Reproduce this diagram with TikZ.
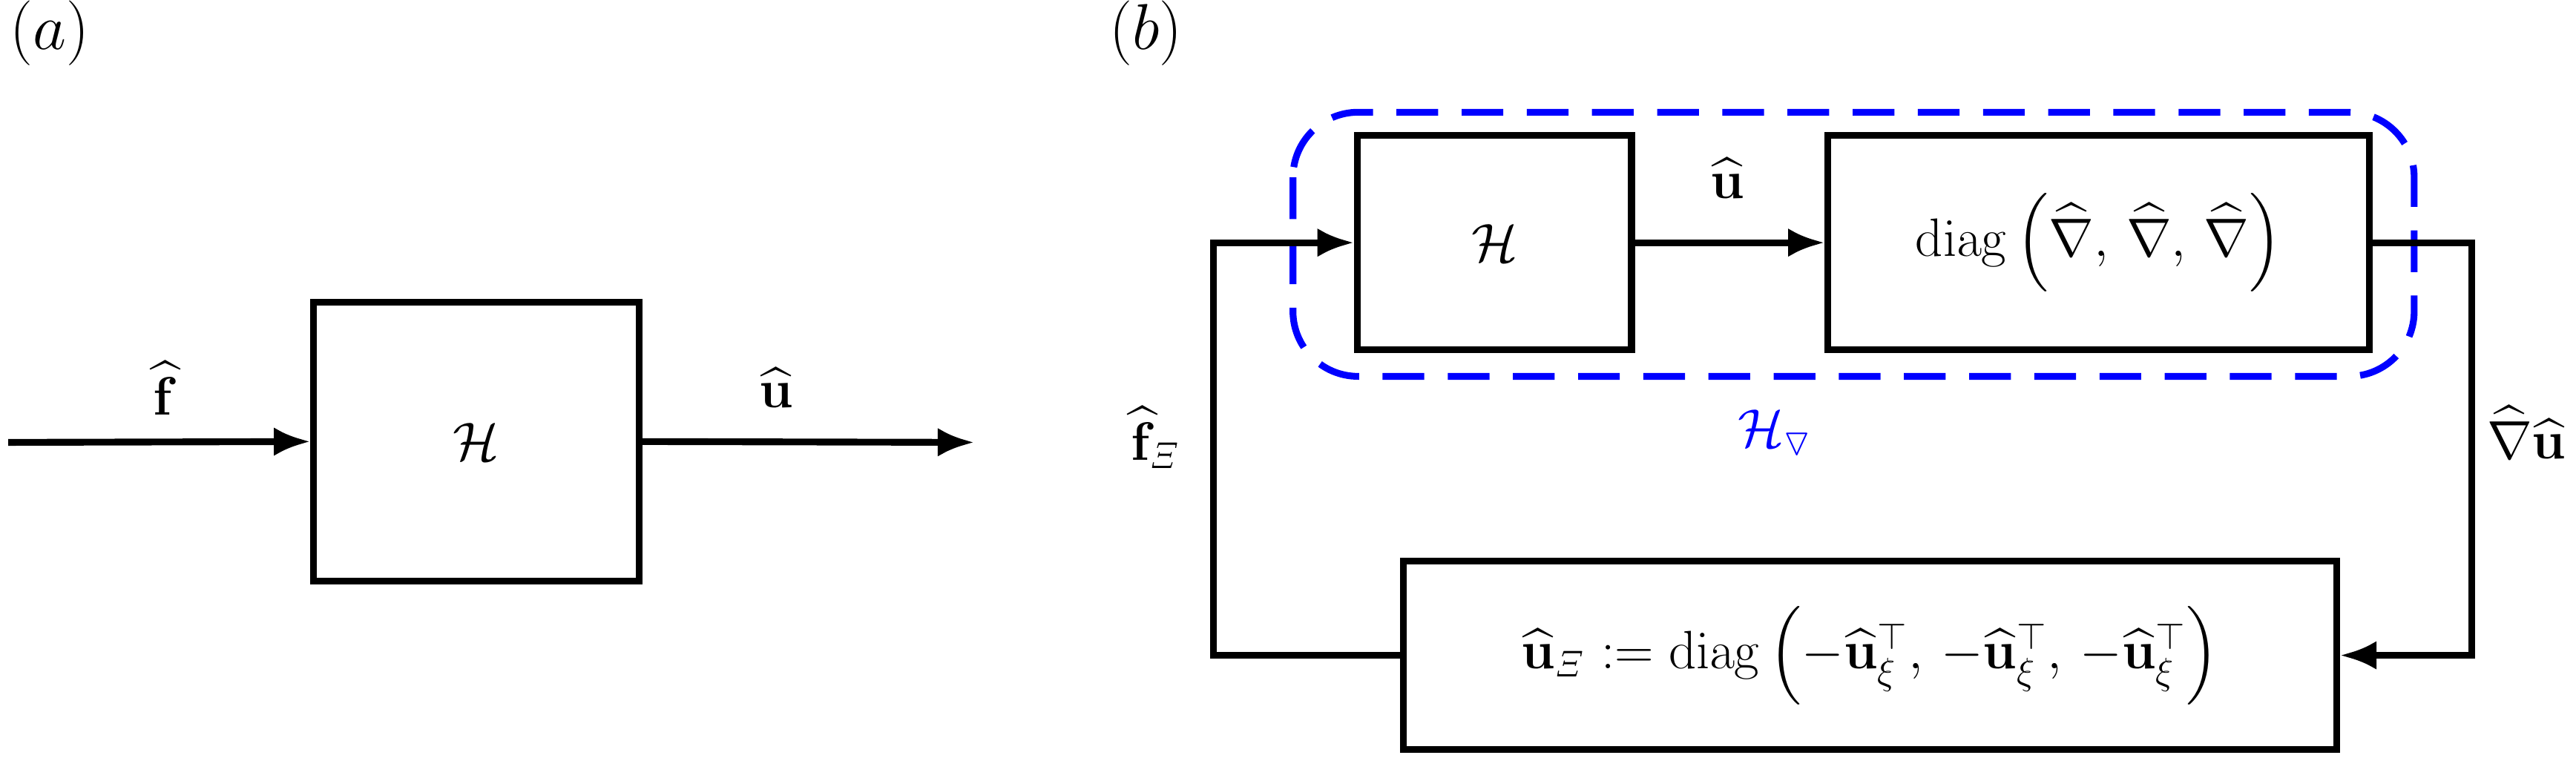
\documentclass[tikz,border=0pt]{standalone}
\usepackage{amsmath,amssymb}
\usetikzlibrary{arrows.meta}
\begin{document}
\begin{tikzpicture}[x=0.02226cm,y=-0.02226cm,
  every node/.style={font=\fontsize{21}{25}\selectfont},
  box/.style={draw,line width=2.6pt,inner sep=0},
  ln/.style={line width=2.6pt,-{Latex[length=14pt,width=11pt]}},
  pl/.style={line width=2.6pt}]
\useasboundingbox (0,0) rectangle (1560,459);
\node[font=\fontsize{25}{30}\selectfont] (la) at (30,20) {$(a)$};
\node[font=\fontsize{25}{30}\selectfont] (lb) at (694,20) {$(b)$};
% (a)
\node[box,minimum width=197*0.02226cm,minimum height=169*0.02226cm] (Ha) at (288.5,267.5) {$\mathcal{H}$};
\coordinate (in) at (5,268);
\coordinate (out) at (590,268);
\draw[ln] (in) -- (Ha.west);
\draw[ln] (Ha.east) -- (out);
\node (fa) at (100,235) {$\widehat{\mathbf{f}}$};
\node (ua) at (470,235) {$\widehat{\mathbf{u}}$};
% (b)
\node[box,minimum width=166*0.02226cm,minimum height=130*0.02226cm] (Hb) at (905,147) {$\mathcal{H}$};
\node[box,minimum width=328*0.02226cm,minimum height=130*0.02226cm] (D) at (1271,147) {$\mathrm{diag}\left(\widehat{\nabla},\,\widehat{\nabla},\,\widehat{\nabla}\right)$};
\node[box,minimum width=565*0.02226cm,minimum height=114*0.02226cm] (B) at (1132.5,397) {$\widehat{\mathbf{u}}_{\mathit{\Xi}} := \mathrm{diag}\,\Bigl(-\widehat{\mathbf{u}}_{\xi}^{\top},\,-\widehat{\mathbf{u}}_{\xi}^{\top},\,-\widehat{\mathbf{u}}_{\xi}^{\top}\Bigr)$};
\draw[ln] (Hb.east) -- (D.west);
\node (ub) at (1046,108) {$\widehat{\mathbf{u}}$};
\draw[blue,line width=2.6pt,dash pattern=on 16pt off 9pt,rounded corners=25pt] (783,68) rectangle (1462,228);
\node[blue] (Hn) at (1075,262) {$\mathcal{H}_{\triangledown}$};
\coordinate (c1) at (735,397);
\coordinate (c2) at (735,147);
\coordinate (c3) at (1497,147);
\coordinate (c4) at (1497,397);
\draw[ln] (B.west) -- (c1) -- (c2) -- (Hb.west);
\draw[ln] (D.east) -- (c3) -- (c4) -- (B.east);
\node (fx) at (700,265) {$\widehat{\mathbf{f}}_{\mathit{\Xi}}$};
\node (gu) at (1530,262) {$\widehat{\nabla}\widehat{\mathbf{u}}$};
\end{tikzpicture}
\end{document}
